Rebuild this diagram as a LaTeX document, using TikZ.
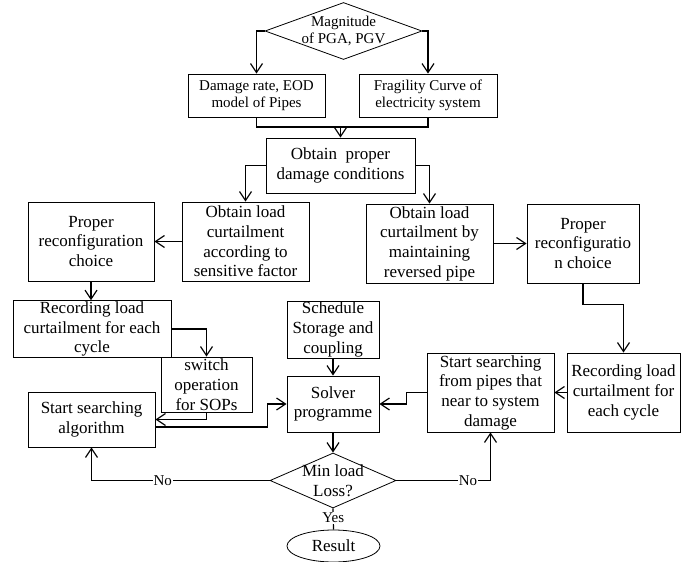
\documentclass[tikz,border=0pt]{standalone}
\usepackage{fontspec}
\setmainfont{Liberation Serif}
\usetikzlibrary{shapes.geometric,arrows.meta}

\begin{document}
\begin{tikzpicture}[x=1pt,y=-1pt,
 big/.style={align=center,font=\fontsize{17}{19.7}\selectfont},
 small/.style={align=center,font=\fontsize{15}{17}\selectfont},
 blk/.style={big,draw,line width=0.8pt,inner sep=1pt},
 dia/.style={diamond,draw,line width=0.8pt,inner sep=0pt},
 lnk/.style={line width=1.2pt},
 arr/.style={lnk,-{Straight Barb[length=9pt,width=12pt,line width=1.2pt]}},
 lbl/.style={small,fill=white,inner sep=1pt}]
\useasboundingbox (0,0) rectangle (699,562);
\node[dia,minimum width=157pt,minimum height=57pt,
 label={[small]center:{Magnitude\\of PGA, PGV}}] (mag) at (343.5,31) {};
\node[blk,small,minimum width=137pt,minimum height=43pt] (dmg) at (256.5,95.5) {Damage rate, EOD\\model of Pipes};
\node[blk,small,minimum width=138pt,minimum height=43pt] (frag) at (428,95.5) {Fragility Curve of\\electricity system};
\node[blk,minimum width=149pt,minimum height=55pt] (obt) at (340.5,165.5) {Obtain\ \ proper\\damage conditions};
\node[blk,minimum width=126pt,minimum height=79pt] (prL) at (91,241.5) {Proper\\reconfiguration\\choice};
\node[blk,minimum width=127pt,minimum height=79pt] (sens) at (245.5,241.5) {Obtain load\\curtailment\\according to\\sensitive factor};
\node[blk,minimum width=127pt,minimum height=79pt] (rev) at (429.5,243.5) {Obtain load\\curtailment by\\maintaining\\reversed pipe};
\node[blk,minimum width=112pt,minimum height=79pt] (prR) at (583,243.5) {Proper\\reconfiguratio\\n choice};
\node[blk,minimum width=158pt,minimum height=56pt] (recL) at (92,329) {Recording load\\curtailment for each\\cycle};
\node[blk,minimum width=92pt,minimum height=55pt] (sched) at (333,329.5) {Schedule\\Storage and\\coupling};
\node[blk,minimum width=91pt,minimum height=55pt] (sw) at (206.5,384.5) {switch\\operation\\for SOPs};
\node[blk,minimum width=92pt,minimum height=56pt] (solv) at (333,404) {Solver\\programme};
\node[blk,minimum width=127pt,minimum height=79pt] (recS) at (490.5,392.5) {Start searching\\from pipes that\\near to system\\damage};
\node[blk,minimum width=113pt,minimum height=79pt] (recR) at (623.5,392.5) {Recording load\\curtailment for\\each cycle};
\node[blk,minimum width=127pt,minimum height=55pt] (ssa) at (91.5,419.5) {Start searching\\algorithm};
\node[dia,minimum width=126pt,minimum height=55pt,
 label={[big]center:{Min load\\Loss?}}] (mll) at (333,480.5) {};
\node[ellipse,draw,line width=0.8pt,big,inner sep=0pt,minimum width=93pt,minimum height=32pt] (res) at (333.5,546) {Result};
\coordinate (j) at (340.5,127);
\draw[arr] (mag.west) -| (dmg.north);
\draw[arr] (mag.east) -| (frag.north);
\draw[lnk] (dmg.south) |- (j) -| (frag.south);
\draw[arr] (j) -- (obt.north);
\draw[arr] (obt.west) -| (sens.north);
\draw[arr] (obt.east) -| (rev.north);
\foreach \a/\b in {sens.west/prL.east,rev.east/prR.west,sched/solv,solv/mll,recR.west/recS.east}
 {\draw[arr] (\a) -- (\b);}
\draw[arr] (prL.south) -- (prL.south |- recL.north);
\draw[arr] (recL.east) -| (sw.north);
\draw[arr] (sw.south) |- (ssa.east);
\draw[arr] ([yshift=-7.5pt]ssa.east) -- ++(112,0) |- (solv.west);
\draw[arr] (prR.south) -- ++(0,21) -| (recR.north);
\draw[arr] (recS.west) -- ++(-20,0) |- (solv.east);
\draw[arr] (mll.west) -| node[lbl,pos=0.3] {No} (ssa.south);
\draw[arr] (mll.east) -| node[lbl,pos=0.38] {No} (recS.south);
\draw[lnk] (mll.south) -- node[lbl,pos=0.45] {Yes} (res.north);
\end{tikzpicture}
\end{document}
